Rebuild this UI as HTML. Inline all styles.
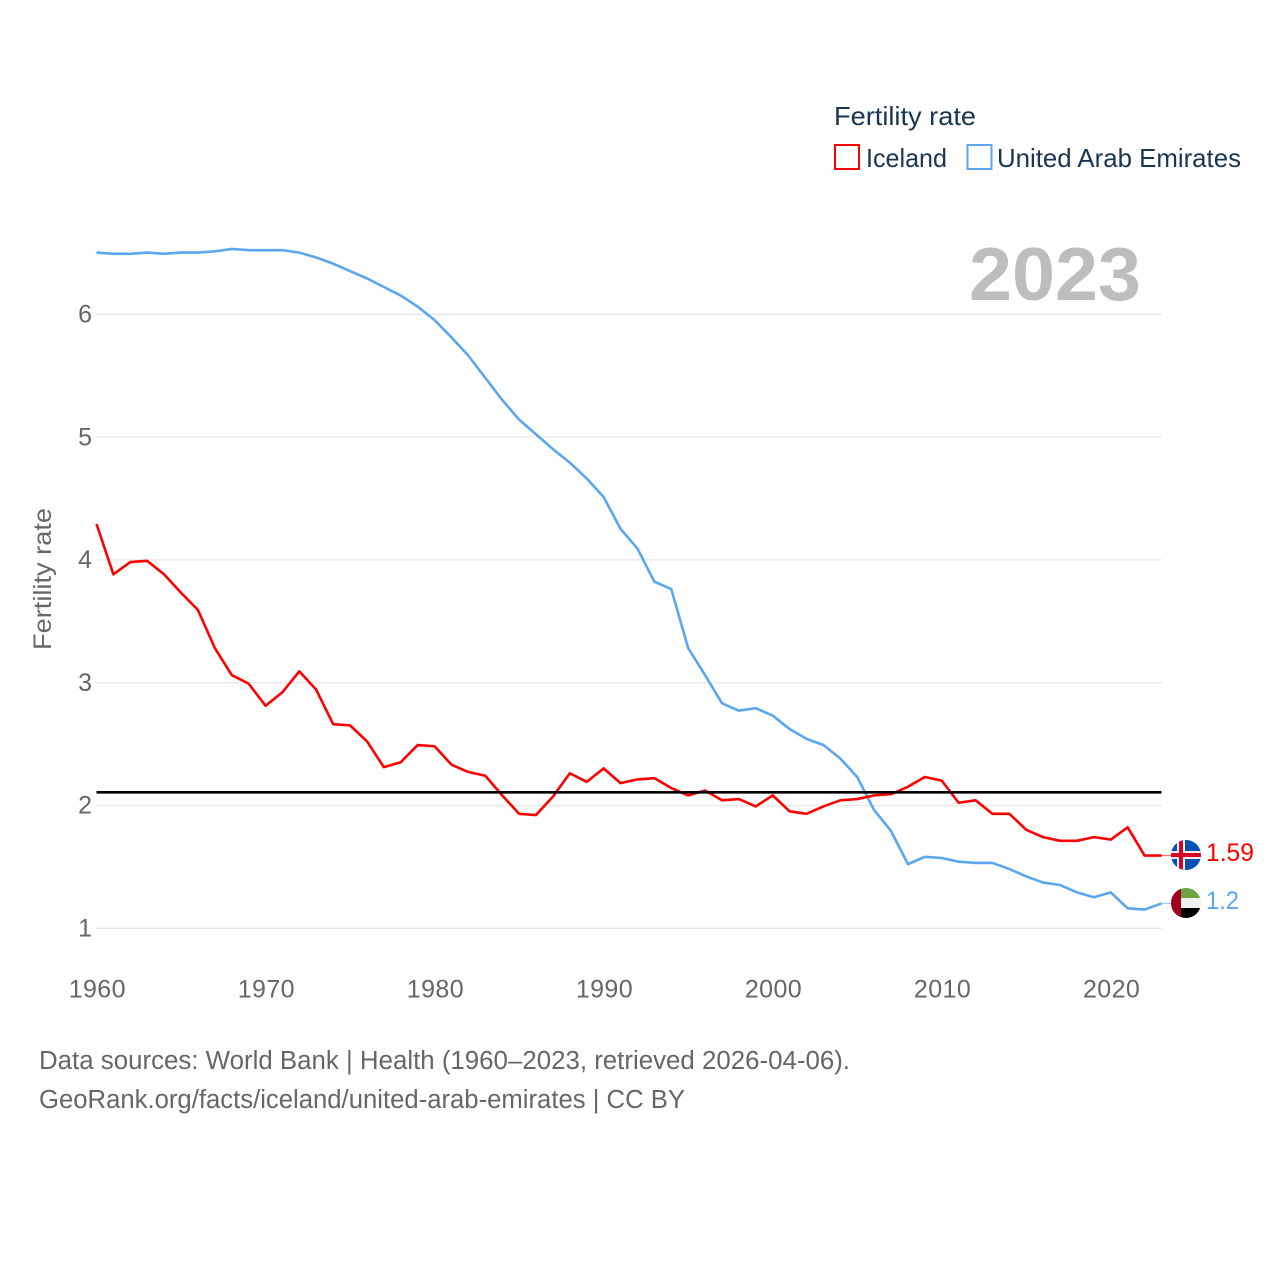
<!DOCTYPE html>
<html lang="en">
<head>
<meta charset="utf-8">
<title>Fertility rate: Iceland and United Arab Emirates</title>
<style>
html,body{margin:0;padding:0;background:#fff}
svg{display:block}
text{font-family:"Liberation Sans",sans-serif}
</style>
</head>
<body>
<svg id="chart" xmlns="http://www.w3.org/2000/svg" width="1280" height="1280" viewBox="0 0 1280 1280">
<rect width="1280" height="1280" fill="#fff"/>
<g id="grid"></g>
<g id="yticks"></g>
<g id="xticks"></g>
<text transform="translate(51,650) rotate(-90)" font-size="25" fill="#666" textLength="142" lengthAdjust="spacingAndGlyphs">Fertility rate</text>
<text x="969" y="300" font-size="75" font-weight="bold" fill="#bdbdbd" textLength="172" lengthAdjust="spacingAndGlyphs">2023</text>
<g id="series"></g>
<g>
<text x="834" y="125" font-size="26" fill="#1a3552" textLength="142" lengthAdjust="spacingAndGlyphs">Fertility rate</text>
<rect x="835" y="145" width="24" height="24" fill="#fff" stroke="#ff0000" stroke-width="2"/>
<text x="866" y="167" font-size="26" fill="#1a3552" textLength="81" lengthAdjust="spacingAndGlyphs">Iceland</text>
<rect x="967.5" y="145" width="24" height="24" fill="#fff" stroke="#5ba6ee" stroke-width="2"/>
<text x="997" y="167" font-size="26" fill="#1a3552" textLength="244" lengthAdjust="spacingAndGlyphs">United Arab Emirates</text>
</g>
<defs>
<clipPath id="clip-is"><circle cx="1186" cy="855" r="15"/></clipPath>
<clipPath id="clip-ae"><circle cx="1186" cy="903" r="15"/></clipPath>
</defs>
<g id="flags">
<g clip-path="url(#clip-is)">
<rect x="1171" y="840" width="30" height="30" fill="#0052b4"/>
<rect x="1171" y="851" width="30" height="8" fill="#f0f0f0"/>
<rect x="1177" y="840" width="8" height="30" fill="#f0f0f0"/>
<rect x="1171" y="853" width="30" height="4" fill="#d80027"/>
<rect x="1179" y="840" width="4" height="30" fill="#d80027"/>
</g>
<g clip-path="url(#clip-ae)">
<rect x="1171" y="888" width="30" height="10" fill="#6da544"/>
<rect x="1171" y="898" width="30" height="10" fill="#f0f0f0"/>
<rect x="1171" y="908" width="30" height="10" fill="#000"/>
<rect x="1171" y="888" width="10" height="30" fill="#a2001d"/>
</g>
</g>
<text x="1206" y="861" font-size="25" fill="#ff0000" textLength="48" lengthAdjust="spacingAndGlyphs">1.59</text>
<text x="1206" y="909" font-size="25" fill="#5ba6ee" textLength="33" lengthAdjust="spacingAndGlyphs">1.2</text>
<text x="39" y="1069" font-size="25.5" fill="#666" textLength="811" lengthAdjust="spacingAndGlyphs">Data sources: World Bank | Health (1960–2023, retrieved 2026-04-06).</text>
<a><text x="39" y="1108" font-size="25.5" fill="#666" textLength="646" lengthAdjust="spacingAndGlyphs">GeoRank.org/facts/iceland/united-arab-emirates | CC BY</text></a>
</svg>
<script>
const startYear = 1960;
const yTickValues = [1, 2, 3, 4, 5, 6];
const xTickYears = [1960, 1970, 1980, 1990, 2000, 2010, 2020];
const replacementRate = 2.105;
const icelandValues = [4.29,3.88,3.98,3.99,3.88,3.73,3.59,3.28,3.06,2.99,2.81,2.92,3.09,2.94,2.66,2.65,2.52,2.31,2.35,2.49,2.48,2.33,2.27,2.24,2.08,1.93,1.92,2.07,2.26,2.19,2.30,2.18,2.21,2.22,2.14,2.08,2.12,2.04,2.05,1.99,2.08,1.95,1.93,1.99,2.04,2.05,2.08,2.09,2.15,2.23,2.20,2.02,2.04,1.93,1.93,1.80,1.74,1.71,1.71,1.74,1.72,1.82,1.59,1.59];
const uaeValues = [6.50,6.49,6.49,6.50,6.49,6.50,6.50,6.51,6.53,6.52,6.52,6.52,6.50,6.46,6.41,6.35,6.29,6.22,6.15,6.06,5.95,5.81,5.66,5.48,5.30,5.14,5.02,4.90,4.79,4.66,4.51,4.25,4.09,3.82,3.76,3.28,3.06,2.83,2.77,2.79,2.73,2.62,2.54,2.49,2.38,2.23,1.96,1.79,1.52,1.58,1.57,1.54,1.53,1.53,1.48,1.42,1.37,1.35,1.29,1.25,1.29,1.16,1.15,1.20];

const NS = 'http://www.w3.org/2000/svg';
const xScale = year => 96.5 + (year - 1960) * (1161.5 - 96.5) / 63;
const yScale = value => 314 + (6 - value) * 122.8;

const grid = document.getElementById('grid');
const yticks = document.getElementById('yticks');
const xticks = document.getElementById('xticks');
const series = document.getElementById('series');

yTickValues.forEach(v => {
  const line = document.createElementNS(NS, 'line');
  
  
  line.setAttribute('x1', 96);
  line.setAttribute('x2', 1162);
  line.setAttribute('y1', yScale(v) + 0.3);
  line.setAttribute('y2', yScale(v) + 0.3);
  line.setAttribute('stroke', '#e8e8e8');
  line.setAttribute('stroke-width', 1.3);
  grid.appendChild(line);

  const label = document.createElementNS(NS, 'text');
  
  
  label.setAttribute('x', 92);
  label.setAttribute('y', yScale(v) + 8.5);
  label.setAttribute('text-anchor', 'end');
  label.setAttribute('font-size', 25);
  label.setAttribute('fill', '#666');
  label.textContent = v;
  yticks.appendChild(label);
});

xTickYears.forEach(y => {
  const label = document.createElementNS(NS, 'text');
  
  
  label.setAttribute('x', xScale(y) + 0.8);
  label.setAttribute('y', 997.5);
  label.setAttribute('text-anchor', 'middle');
  label.setAttribute('font-size', 25);
  label.setAttribute('letter-spacing', 0.4);
  label.setAttribute('fill', '#666');
  label.textContent = y;
  xticks.appendChild(label);
});

function drawLine(values, color, name) {
  const path = document.createElementNS(NS, 'polyline');
  
  
  path.setAttribute('points', values.map((v, i) => xScale(startYear + i).toFixed(2) + ',' + yScale(v).toFixed(2)).join(' '));
  path.setAttribute('fill', 'none');
  path.setAttribute('stroke', color);
  path.setAttribute('stroke-width', 2.6);
  path.setAttribute('stroke-linejoin', 'round');
  series.appendChild(path);
}

function drawConnector(values, color, name) {
  const y = yScale(values[values.length - 1]);
  const link = document.createElementNS(NS, 'line');
  
  
  link.setAttribute('x1', 1161.5);
  link.setAttribute('x2', 1171);
  link.setAttribute('y1', y);
  link.setAttribute('y2', y);
  link.setAttribute('stroke', color);
  link.setAttribute('stroke-opacity', 0.6);
  link.setAttribute('stroke-width', 1.2);
  series.appendChild(link);
}

const reference = document.createElementNS(NS, 'line');


reference.setAttribute('x1', 96.5);
reference.setAttribute('x2', 1161.5);
reference.setAttribute('y1', yScale(replacementRate));
reference.setAttribute('y2', yScale(replacementRate));
reference.setAttribute('stroke', '#000');
reference.setAttribute('stroke-width', 2.6);

drawLine(uaeValues, '#5ba6ee', 'uae-line');
drawLine(icelandValues, '#ff0000', 'iceland-line');
series.appendChild(reference);
drawConnector(icelandValues, '#ff0000', 'iceland-connector');
drawConnector(uaeValues, '#5ba6ee', 'uae-connector');
</script>
</body>
</html>
